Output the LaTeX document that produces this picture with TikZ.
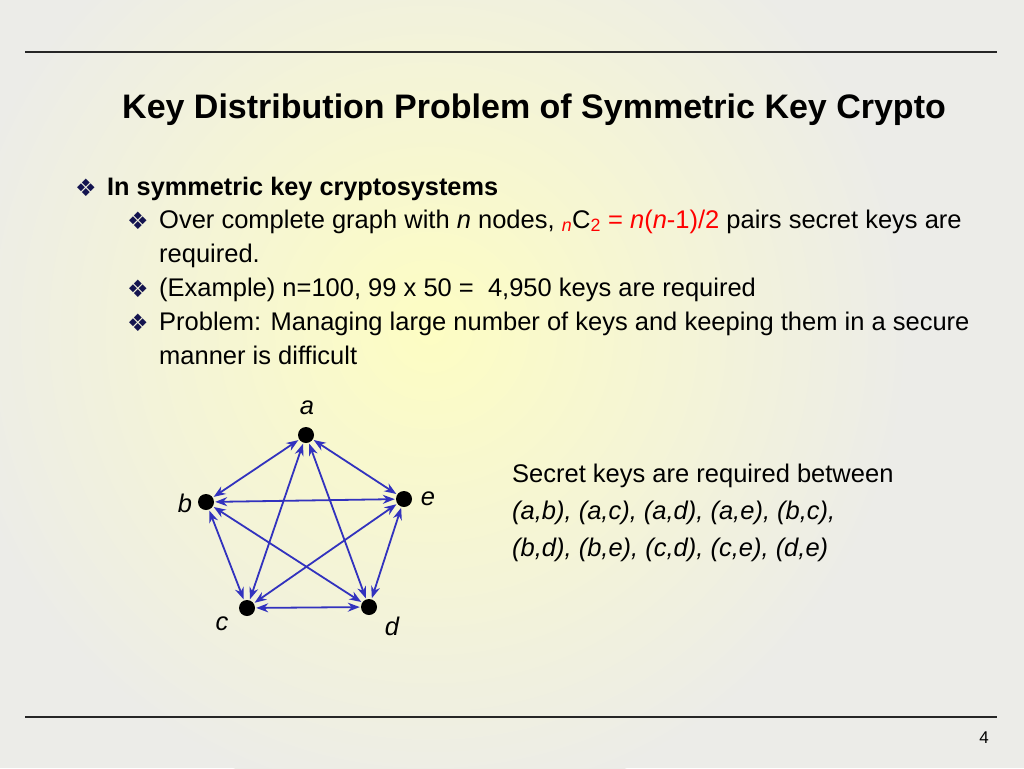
\documentclass[tikz,border=0pt]{standalone}
\usepackage{fontspec}
\setmainfont{Liberation Sans}
\newfontfamily\dejavu{DejaVu Sans}
\usetikzlibrary{arrows.meta}
\definecolor{edgeblue}{RGB}{50,50,190}
\definecolor{bg}{RGB}{236,236,232}
\definecolor{glow}{RGB}{253,253,195}
\definecolor{bul}{RGB}{20,20,80}
\tikzset{
 txt/.style={anchor=base west,inner sep=0pt,font=\fontsize{25.5}{28}\selectfont},
 bullet/.style={anchor=base west,inner sep=0pt,text=bul,font=\dejavu\fontsize{24}{26}\selectfont},
 dot/.style={circle,fill=black,inner sep=0pt,minimum size=16pt},
 lbl/.style={inner sep=0pt,font=\fontsize{25.5}{28}\selectfont\itshape},
 edge/.style={edgeblue,line width=1.8pt,{Stealth[length=12pt,width=9pt]}-{Stealth[length=12pt,width=9pt]},shorten <=1pt,shorten >=1pt},
 rule/.style={line width=2.5pt,black!85}
}
\begin{document}
\begin{tikzpicture}[x=1pt,y=-1pt]
\useasboundingbox (0,0) rectangle (1024,768);
\fill[bg] (0,0) rectangle (1024,768);
\begin{scope}
\clip (0,0) rectangle (1024,768);
\shade[inner color=glow,outer color=bg] (430,330) circle[radius=480pt];
\end{scope}
\draw[rule] (25,52) -- (997,52);
\draw[rule] (25,717) -- (997,717);
\node[anchor=base west,inner sep=0pt,font=\bfseries\fontsize{34}{38}\selectfont] (title) at (122,118) {Key Distribution Problem of Symmetric Key Crypto};
\node[bullet] (b1) at (75,196) {❖};
\node[txt,font=\bfseries\fontsize{25.3}{28}\selectfont] (t1) at (107,195) {In symmetric key cryptosystems};
\node[bullet] (b2) at (127,229) {❖};
\node[txt] (t2) at (159,228) {Over complete graph with \textit{n} nodes, \textcolor{red}{\textsubscript{\textit{n}}}C\textcolor{red}{\textsubscript{2}}\ \textcolor{red}{= \textit{n}(\textit{n}-1)/2} pairs secret keys are};
\node[txt] (t3) at (159,262) {required.};
\node[bullet] (b3) at (127,297) {❖};
\node[txt] (t4) at (159,296) {(Example) n=100, 99 x 50 = \ 4,950 keys are required};
\node[bullet] (b4) at (127,331) {❖};
\node[txt] (t5) at (159,330) {Problem: Managing large number of keys and keeping them in a secure};
\node[txt] (t6) at (159,364) {manner is difficult};
\node[dot] (a) at (306,435) {};
\node[dot] (b) at (206,502) {};
\node[dot] (e) at (404,499) {};
\node[dot] (c) at (247,608) {};
\node[dot] (d) at (369,607) {};
\node[lbl] (la) at (307,408) {a};
\node[lbl] (lb) at (185,503) {b};
\node[lbl] (le) at (428,499) {e};
\node[lbl] (lc) at (222,624) {c};
\node[lbl] (ld) at (392,626) {d};
\foreach \u/\v in {a/b,a/c,a/d,a/e,b/c,b/d,b/e,c/d,c/e,d/e}
  \draw[edge] (\u) -- (\v);
\node[txt] (r1) at (512,482) {Secret keys are required between};
\node[txt,font=\fontsize{25.5}{28}\selectfont\itshape] (r2) at (512,519) {(a,b), (a,c), (a,d), (a,e), (b,c),};
\node[txt,font=\fontsize{25.5}{28}\selectfont\itshape] (r3) at (512,556) {(b,d), (b,e), (c,d), (c,e), (d,e)};
\node[anchor=base,inner sep=0pt,font=\fontsize{17}{19}\selectfont] (pg) at (984,743) {4};
\end{tikzpicture}
\end{document}
